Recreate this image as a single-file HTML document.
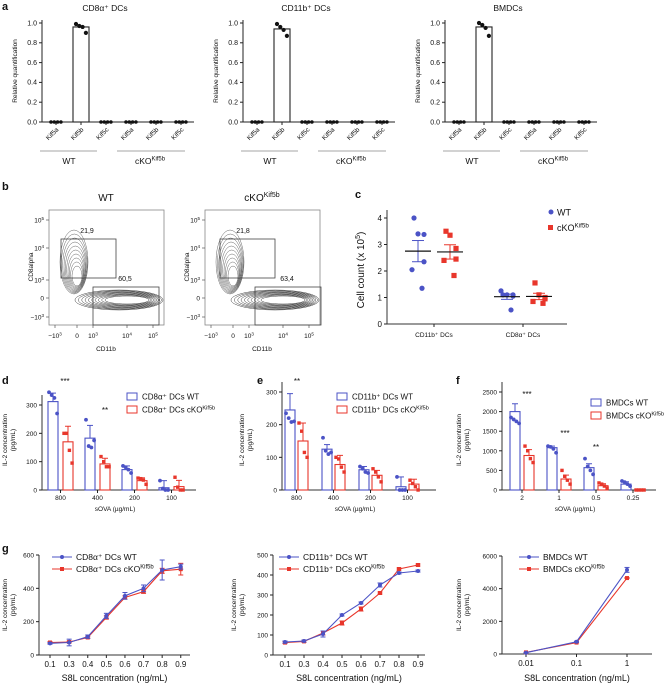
<!DOCTYPE html>
<html><head><meta charset="utf-8"><style>
body{margin:0;background:#fff;}
svg{display:block;font-family:"Liberation Sans",Arial,sans-serif;}
</style></head><body>
<svg id="fig" width="664" height="685" viewBox="0 0 664 685" xmlns="http://www.w3.org/2000/svg"></svg>
<script>
// ---- Panel a data ----
const aTitles = ["CD8\u03b1\u207a DCs","CD11b\u207a DCs","BMDCs"];
const aCats = ["Kif5a","Kif5b","Kif5c","Kif5a","Kif5b","Kif5c"];
const aBar = [0.96,0.94,0.96];
const aDots1 = [0.99,0.97,0.96,0.90];
const aDots2 = [0.99,0.96,0.93,0.87];
const aDots3 = [1.0,0.98,0.95,0.87];
const aTicks = [0,0.2,0.4,0.6,0.8,1.0];
// ---- Panel c data ----
const cGroups = ["CD11b\u207a DCs","CD8\u03b1\u207a DCs"];
const cWT1 = [4.0,3.4,3.38,2.35,2.05,1.35];
const cKO1 = [3.5,3.35,2.85,2.45,2.4,1.83];
const cWT2 = [1.1,1.1,1.05,1.1,1.25,0.53];
const cKO2 = [1.55,1.1,1.0,0.95,0.85,0.78];
const cMeanWT = [2.75,1.03];
const cSemWT = [0.4,0.1];
const cMeanKO = [2.72,1.04];
const cSemKO = [0.27,0.12];
const cTicks = [0,1,2,3,4];
// ---- Panel d data ----
const dCats = ["800","400","200","100"];
const dWT = [312,183,72,8];
const dWTsd = [30,45,13,25];
const dKO = [170,92,33,12];
const dKOsd = [55,20,10,22];
const dWTpts = [[345,335,325,270],[248,155,150,175],[85,80,72,60],[33,5,0,0]];
const dKOpts = [[200,200,140,95],[118,100,82,82],[42,40,35,20],[45,10,0,0]];
const dTicks = [0,100,200,300];
// ---- Panel e data ----
const eCats = ["800","400","200","100"];
const eWT = [245,125,62,10];
const eWTsd = [50,14,10,30];
const eKO = [150,78,45,18];
const eKOsd = [55,28,15,15];
const eWTpts = [[235,220,208,210],[160,120,110,115],[72,65,55,52],[40,0,0,0]];
const eKOpts = [[205,180,115,100],[100,95,70,55],[65,55,40,25],[30,20,10,0]];
const eTicks = [0,100,200,300];
// ---- Panel f data ----
const fCats = ["2","1","0.5","0.25"];
const fWT = [2000,1080,570,150];
const fWTsd = [200,40,100,60];
const fKO = [880,280,110,0];
const fKOsd = [150,100,50,0];
const fWTpts = [[1850,1800,1750,1700],[1120,1100,1050,950],[800,600,500,400],[230,200,150,100]];
const fKOpts = [[1120,1000,800,700],[500,350,250,150],[180,150,100,50],[0,0,0,0]];
const fTicks = [0,500,1000,1500,2000,2500];
// ---- Panel g data ----
const g1X = ["0.1","0.3","0.4","0.5","0.6","0.7","0.8","0.9"];
const g1WT = [70,75,110,235,355,400,510,530];
const g1WTe = [5,20,10,15,20,20,60,15];
const g1KO = [75,78,105,225,345,380,505,515];
const g1KOe = [5,5,5,10,10,10,15,35];
const g1Ticks = [0,200,400,600];
const g2X = ["0.1","0.3","0.4","0.5","0.6","0.7","0.8","0.9"];
const g2WT = [65,70,105,200,260,350,410,420];
const g2WTe = [5,5,15,5,5,10,5,5];
const g2KO = [62,68,110,160,230,310,430,450];
const g2KOe = [5,5,10,10,10,5,5,5];
const g2Ticks = [0,100,200,300,400,500];
const g3X = ["0.01","0.1","1"];
const g3WT = [80,750,5150];
const g3WTe = [10,30,150];
const g3KO = [100,700,4650];
const g3KOe = [10,20,30];
const g3Ticks = [0,2000,4000,6000];

const BLUE="#4b53c6", RED="#e8362b";
const svg=document.getElementById('fig');
const NS="http://www.w3.org/2000/svg";
function mk(tag,attrs,parent,txt){const e=document.createElementNS(NS,tag);for(const k in attrs)e.setAttribute(k,attrs[k]);if(txt!==undefined)e.textContent=txt;(parent||svg).appendChild(e);return e;}
function grp(name){const g=mk('g',{});return g;}
function txt(p,x,y,s,size,opts){opts=opts||{};const t=mk('text',{x:x,y:y,'font-size':size,fill:opts.fill||'#111','text-anchor':opts.anchor||'middle','font-weight':opts.bold?'bold':'normal'},p,s);if(opts.rot)t.setAttribute('transform',`rotate(${opts.rot} ${x} ${y})`);return t;}
function line(p,x1,y1,x2,y2,c,w){return mk('line',{x1,y1,x2,y2,stroke:c||'#222','stroke-width':w||1},p);}
function sup(p,x,y,base,supTxt,size,anchor){const t=mk('text',{x:x,y:y,'font-size':size,fill:'#111','text-anchor':anchor||'middle'},p);t.appendChild(document.createTextNode(base));mk('tspan',{dy:-size*0.4,'font-size':size*0.7},t,supTxt);return t;}

// panel labels
[["a",2,10],["b",2,190],["c",355,198],["d",2,384],["e",257,384],["f",456,384],["g",2,552]].forEach(l=>{const t=txt(svg,l[1],l[2],l[0],11,{anchor:'start',bold:true});});

// ---- Panel a ----
const aX0=[42,243,445]; const aDots=[aDots1,aDots2,aDots3];
aX0.forEach((x0,pi)=>{
  const g=grp('panel-a-chart-'+(pi+1));
  const y=v=>122-99*v;
  txt(g,x0+63,11,aTitles[pi],8.5);
  line(g,x0,20,x0,122,'#222',1);line(g,x0,122,x0+152,122,'#222',1);
  aTicks.forEach(t=>{line(g,x0-3,y(t),x0,y(t));txt(g,x0-5,y(t)+2.3,t.toFixed(1),7,{anchor:'end'});});
  txt(g,x0-25,71,"Relative quantification",6.5,{rot:-90});
  aCats.forEach((c,i)=>{
    const cx=x0+14+25*i;
    line(g,cx,122,cx,125);
    txt(g,cx+3,130,c,6.5,{anchor:'end',rot:-45});
    if(i===1){
      const b=mk('rect',{x:cx-8,y:y(aBar[pi]),width:16,height:122-y(aBar[pi]),fill:'#fff',stroke:'#222','stroke-width':1.1},g);
      
      aDots[pi].forEach((v,k)=>mk('circle',{cx:cx-5+3.3*k,cy:y(v),r:2.1,fill:'#111'},g));
    } else {
      [0,0,0,0].forEach((v,k)=>mk('circle',{cx:cx-5+3.3*k,cy:y(v),r:1.8,fill:'#111'},g));
    }
  });
  line(g,x0-2,151,x0+55,151,'#888',0.8);txt(g,x0+27,164,"WT",8.5);
  line(g,x0+75,151,x0+143,151,'#888',0.8);sup(g,x0+108,164,"cKO","Kif5b",8.5);
});

// ---- Panel b ----
[[49,"WT","",["21,9","60,5"]],[205,"cKO","Kif5b",["21,8","63,4"]]].forEach((pp,pi)=>{
  const x0=pp[0];const g=grp('flow-plot-'+(pi?'cko':'wt'));
  if(pp[2])sup(g,x0+57,201,pp[1],pp[2],10);else txt(g,x0+57,201,pp[1],10);
  mk('rect',{x:x0,y:210,width:115,height:115,fill:'none',stroke:'#888','stroke-width':0.8},g);
  [["10","5",220],["10","4",248],["10","3",280],["0","",298],["\u221210","3",317]].forEach(t=>{line(g,x0-3,t[2],x0,t[2],'#555',0.7);if(t[1])sup(g,x0-5,t[2]+2.5,t[0],t[1],6.5,'end');else txt(g,x0-5,t[2]+2.5,t[0],6.5,{anchor:'end'});});
  txt(g,x0-16,267,"CD8alpha",6.5,{rot:-90});
  [["\u221210","3",6],["0","",28],["10","3",44],["10","4",78],["10","5",104]].forEach(t=>{line(g,x0+t[2],325,x0+t[2],328,'#555',0.7);if(t[1])sup(g,x0+t[2],338,t[0],t[1],6.5);else txt(g,x0+t[2],338,t[0],6.5);});
  txt(g,x0+57,351,"CD11b",6.5);
  for(let k=0;k<10;k++){
    const f=k/9;
    mk('ellipse',{cx:x0+25+f*3,cy:262+f*14,rx:14-f*9,ry:32-f*22,fill:'none',stroke:'#555','stroke-width':0.45},g);
    mk('ellipse',{cx:x0+70+f*8,cy:300,rx:44-f*22,ry:10-f*6,fill:'none',stroke:'#444','stroke-width':0.5},g);
  }
  const dx=pi?6:0;
  mk('rect',{x:x0+12+dx*0.5,y:239,width:55,height:39,fill:'none',stroke:'#444','stroke-width':0.8},g);
  mk('rect',{x:x0+44+dx,y:287,width:66,height:38,fill:'none',stroke:'#444','stroke-width':0.8},g);
  txt(g,x0+38,233,pp[3][0],7);txt(g,x0+76+dx,281,pp[3][1],7);
});

// ---- Panel c ----
(function(){
  const g=grp('panel-c-scatter');
  const x0=387,y0=324,sc=26.5,y=v=>y0-v*sc;
  line(g,x0,210,x0,y0,'#333',1);line(g,x0,y0,567,y0,'#333',1);
  cTicks.forEach(t=>{line(g,x0-3,y(t),x0,y(t));txt(g,x0-5,y(t)+3,String(t),8,{anchor:'end'});});
  const tl=txt(g,364,270,"",10,{rot:-90});tl.textContent="Cell count (x 10";mk('tspan',{dy:-4,'font-size':7},tl,"5");mk('tspan',{dy:4},tl,")");
  const gx=[434,523];
  gx.forEach((cx,i)=>{line(g,cx,y0,cx,y0+3);txt(g,cx,337,cGroups[i],6.5);});
  const sets=[[cWT1,0,BLUE,'c'],[cKO1,0,RED,'s'],[cWT2,1,BLUE,'c'],[cKO2,1,RED,'s']];
  const jit=[-4,-8,6,-2,-6,-4];
  sets.forEach((s)=>{
    const cx=gx[s[1]]+(s[3]==='c'?-16:16);
    const mean=s[3]==='c'?cMeanWT[s[1]]:cMeanKO[s[1]];const sem=s[3]==='c'?cSemWT[s[1]]:cSemKO[s[1]];
    line(g,cx,y(mean-sem),cx,y(mean+sem),s[2],1);
    line(g,cx-6,y(mean-sem),cx+6,y(mean-sem),s[2],1);line(g,cx-6,y(mean+sem),cx+6,y(mean+sem),s[2],1);
    s[0].forEach((v,k)=>{const px=cx+jit[k]+(k%2?8:0);
      if(s[3]==='c')mk('circle',{cx:px,cy:y(v),r:2.6,fill:s[2]},g);else mk('rect',{x:px-2.6,y:y(v)-2.6,width:5.2,height:5.2,fill:s[2]},g);});
    line(g,cx-13,y(mean),cx+13,y(mean),'#111',1.2);
  });
  const lg=grp('legend-c');
  mk('circle',{cx:551,cy:212,r:2.5,fill:BLUE},lg);txt(lg,557,215.5,"WT",9,{anchor:'start'});
  mk('rect',{x:548,y:225,width:5,height:5,fill:RED},lg);sup(lg,557,231,"cKO","Kif5b",9,'start');
})();

// ---- Bar panels d,e,f ----
function barPanel(name,x0,top,y0,max,ticks,cats,WT,WTsd,KO,KOsd,WTp,KOp,c0,off,legX,legY,legWT,legKO,stars,ylx){
  const g=grp(name);
  const y=v=>y0-(v/max)*(y0-top);
  line(g,x0,top-10,x0,y0,'#333',1);line(g,x0,y0,x0+4*37+6,y0,'#333',1);
  ticks.forEach(t=>{line(g,x0-3,y(t),x0,y(t));txt(g,x0-5,y(t)+2.5,String(t),6.5,{anchor:'end'});});
  txt(g,ylx,440,"IL-2 concentration",6.5,{rot:-90});txt(g,ylx+8,440,"(pg/mL)",6.5,{rot:-90});
  cats.forEach((c,i)=>{
    const cw=c0+37*i, ck=cw+off;
    line(g,(cw+ck)/2,y0,(cw+ck)/2,y0+3);txt(g,(cw+ck)/2,y0+10,c,6.5);
    [[cw,WT[i],WTsd[i],WTp[i],BLUE,'c','wt'],[ck,KO[i],KOsd[i],KOp[i],RED,'s','cko']].forEach(b=>{
      const r=mk('rect',{x:b[0]-5,y:y(b[1]),width:10,height:y0-y(b[1]),fill:'none',stroke:b[4],'stroke-width':1.1},g);
      
      if(b[2]>0){line(g,b[0],y(b[1]),b[0],y(b[1]+b[2]),b[4],1);line(g,b[0]-3,y(b[1]+b[2]),b[0]+3,y(b[1]+b[2]),b[4],1);}
      b[3].forEach((v,k)=>{const px=b[0]-4+k*2.7;
        if(b[5]==='c')mk('circle',{cx:px,cy:y(v),r:1.9,fill:b[4]},g);else mk('rect',{x:px-1.7,y:y(v)-1.7,width:3.4,height:3.4,fill:b[4]},g);});
    });
  });
  txt(g,x0+73,y0+21,"sOVA (\u00b5g/mL)",6.5);
  const lg=grp('legend-'+name);
  mk('rect',{x:legX,y:legY-4,width:10,height:7,fill:'none',stroke:BLUE,'stroke-width':1},lg);
  txt(lg,legX+15,legY+2.5,legWT,8,{anchor:'start'});
  mk('rect',{x:legX,y:legY+9,width:10,height:7,fill:'none',stroke:RED,'stroke-width':1},lg);
  sup(lg,legX+15,legY+15.5,legKO,"Kif5b",8,'start');
  stars.forEach(s=>txt(g,s[0],s[1],s[2],8));
}
barPanel('panel-d-bars',42,405,490,300,dTicks,dCats,dWT,dWTsd,dKO,dKOsd,dWTpts,dKOpts,53,15,127,397,"CD8\u03b1\u207a DCs WT","CD8\u03b1\u207a DCs cKO",[[65,384,"***"],[105,413,"**"]],7);
barPanel('panel-e-bars',282,392,490,300,eTicks,eCats,eWT,eWTsd,eKO,eKOsd,eWTpts,eKOpts,290,13,337,397,"CD11b\u207a DCs WT","CD11b\u207a DCs cKO",[[297,384,"**"]],244);
barPanel('panel-f-bars',502,392,490,2500,fTicks,fCats,fWT,fWTsd,fKO,fKOsd,fWTpts,fKOpts,515,14,591,403,"BMDCs WT","BMDCs cKO",[[527,397,"***"],[565,436,"***"],[596,450,"**"]],461);

// ---- Line panels g ----
function linePanel(name,x0,xEnd,top,y0,max,ticks,xl,xpos,WT,WTe,KO,KOe,legX,legWT,legKO,ylx){
  const g=grp(name);
  const y=v=>y0-(v/max)*(y0-top);
  line(g,x0,top,x0,y0,'#333',1);line(g,x0,y0,xEnd,y0,'#333',1);
  ticks.forEach(t=>{line(g,x0-3,y(t),x0,y(t));txt(g,x0-5,y(t)+2.5,String(t),6.5,{anchor:'end'});});
  txt(g,ylx,605,"IL-2 concentration",6.5,{rot:-90});txt(g,ylx+8,605,"(pg/mL)",6.5,{rot:-90});
  xl.forEach((l,i)=>{line(g,xpos(i),y0,xpos(i),y0+3);txt(g,xpos(i),y0+12,l,8);});
  txt(g,(x0+xEnd)/2,681,"S8L concentration (ng/mL)",9);
  [[KO,KOe,RED,'s','cko'],[WT,WTe,BLUE,'c','wt']].forEach(s=>{
    const pts=s[0].map((v,i)=>xpos(i)+','+y(v)).join(' ');
    const pl=mk('polyline',{points:pts,fill:'none',stroke:s[2],'stroke-width':1.1},g);
    
    s[0].forEach((v,i)=>{const px=xpos(i);
      line(g,px,y(v-s[1][i]),px,y(v+s[1][i]),s[2],1);line(g,px-2.5,y(v-s[1][i]),px+2.5,y(v-s[1][i]),s[2],1);line(g,px-2.5,y(v+s[1][i]),px+2.5,y(v+s[1][i]),s[2],1);
      if(s[3]==='c')mk('circle',{cx:px,cy:y(v),r:2,fill:s[2]},g);else mk('rect',{x:px-2,y:y(v)-2,width:4,height:4,fill:s[2]},g);});
  });
  const lg=grp('legend-'+name);
  line(lg,legX,557,legX+20,557,BLUE,1.1);mk('circle',{cx:legX+10,cy:557,r:2,fill:BLUE},lg);txt(lg,legX+24,560,legWT,8.5,{anchor:'start'});
  line(lg,legX,569,legX+20,569,RED,1.1);mk('rect',{x:legX+8,y:567,width:4,height:4,fill:RED},lg);sup(lg,legX+24,572,legKO,"Kif5b",8.5,'start');
}
linePanel('panel-g-cd8',39,190,555,655,600,g1Ticks,g1X,i=>50+18.6*(i===0?0:i+0.03),g1WT,g1WTe,g1KO,g1KOe,52,"CD8\u03b1\u207a DCs WT","CD8\u03b1\u207a DCs cKO",7);
linePanel('panel-g-cd11b',273,425,555,655,500,g2Ticks,g2X,i=>285+19*i,g2WT,g2WTe,g2KO,g2KOe,279,"CD11b\u207a DCs WT","CD11b\u207a DCs cKO",236);
linePanel('panel-g-bmdc',502,652,556,654,6000,g3Ticks,g3X,i=>526+50.5*i,g3WT,g3WTe,g3KO,g3KOe,519,"BMDCs WT","BMDCs cKO",461);
</script>
</body></html>
